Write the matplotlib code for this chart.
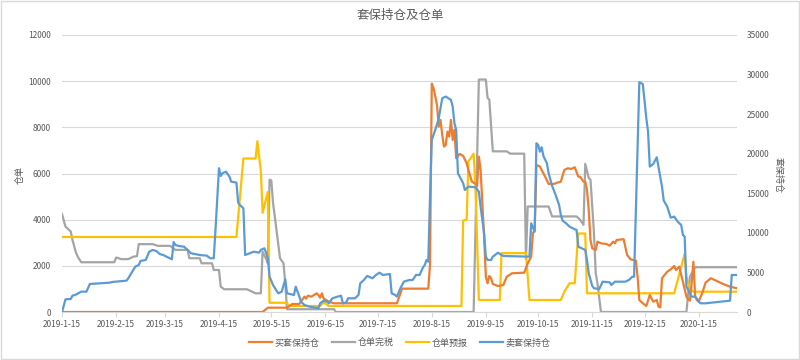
import pandas as pd
import numpy as np
import matplotlib
matplotlib.use('Agg')
import matplotlib.pyplot as plt
import matplotlib.dates as mdates
from matplotlib.ticker import FuncFormatter
from matplotlib.lines import Line2D
from matplotlib.patches import Rectangle

plt.rcParams['font.family'] = ['Noto Sans CJK SC', 'DejaVu Sans']

# ---- data ----
# 仓单预报 (left axis)
yb_dates = ['2019-01-15', '2019-04-25', '2019-04-29', '2019-05-06', '2019-05-07', '2019-05-09',
            '2019-05-10', '2019-05-13', '2019-05-14', '2019-05-24', '2019-05-25', '2019-06-12',
            '2019-06-14', '2019-06-17', '2019-09-01', '2019-09-02', '2019-09-04', '2019-09-05',
            '2019-09-08', '2019-09-09', '2019-09-11', '2019-09-23', '2019-09-24', '2019-10-08',
            '2019-10-10', '2019-10-28', '2019-10-30', '2019-11-02', '2019-11-05', '2019-11-07',
            '2019-11-11', '2019-11-12', '2020-01-01', '2020-01-07', '2020-01-08', '2020-01-10',
            '2020-01-12', '2020-02-06']
yb_vals = [3250, 3250, 6650, 6650, 7400, 6100,
           4300, 5200, 400, 400, 260, 260,
           420, 260, 260, 3960, 4000, 6520,
           6860, 5500, 520, 520, 2550, 2550,
           520, 520, 880, 1245, 1245, 3400,
           3400, 810, 810, 2520, 1530, 1000,
           880, 880]

# 仓单完税 (left axis)
ws_dates = ['2019-01-15', '2019-01-17', '2019-01-20', '2019-01-21', '2019-01-23', '2019-01-24',
            '2019-01-26', '2019-02-14', '2019-02-15', '2019-02-18', '2019-02-22', '2019-02-25',
            '2019-02-27', '2019-02-28', '2019-03-08', '2019-03-11', '2019-03-18', '2019-03-21',
            '2019-03-28', '2019-03-29', '2019-04-04', '2019-04-05', '2019-04-11', '2019-04-12',
            '2019-04-15', '2019-04-16', '2019-04-18', '2019-05-01', '2019-05-06', '2019-05-09',
            '2019-05-10', '2019-05-12', '2019-05-13', '2019-05-14', '2019-05-15', '2019-05-16',
            '2019-05-17', '2019-05-20', '2019-05-22', '2019-05-23', '2019-05-24', '2019-06-20',
            '2019-06-21', '2019-09-08', '2019-09-11', '2019-09-15', '2019-09-16', '2019-09-17',
            '2019-09-19', '2019-09-27', '2019-09-29', '2019-10-07', '2019-10-08', '2019-10-09',
            '2019-10-21', '2019-10-23', '2019-11-06', '2019-11-08', '2019-11-10', '2019-11-11',
            '2019-11-13', '2019-11-14', '2019-11-16', '2019-11-17', '2019-11-18', '2019-11-20',
            '2020-01-08', '2020-01-10', '2020-01-13', '2020-02-06']
ws_vals = [4240, 3700, 3490, 3125, 2575, 2400,
           2155, 2155, 2360, 2290, 2290, 2400,
           2420, 2940, 2940, 2865, 2865, 2690,
           2690, 2330, 2330, 2110, 2110, 1820,
           1820, 1100, 985, 985, 810, 810,
           2620, 2300, 2110, 5730, 5700, 4720,
           4140, 2330, 2110, 1245, 120, 120,
           0, 0, 10070, 10070, 9270, 9200,
           6960, 6960, 6860, 6860, 2300, 4570,
           4570, 4140, 4140, 4000, 3775, 6420,
           5800, 5730, 3415, 1680, 1245, 0,
           0, 1530, 1940, 1940]

# 买套保持仓 (right axis)
buy_dates = ['2019-01-15', '2019-05-10', '2019-05-13', '2019-05-24', '2019-05-27', '2019-05-31',
             '2019-06-03', '2019-06-04', '2019-06-05', '2019-06-07', '2019-06-10', '2019-06-11',
             '2019-06-12', '2019-06-13', '2019-06-14', '2019-06-17', '2019-06-20', '2019-07-26',
             '2019-07-29', '2019-08-13', '2019-08-14', '2019-08-15', '2019-08-16', '2019-08-18',
             '2019-08-19', '2019-08-20', '2019-08-21', '2019-08-22', '2019-08-23', '2019-08-24',
             '2019-08-25', '2019-08-26', '2019-08-27', '2019-08-28', '2019-08-29', '2019-08-31',
             '2019-09-02', '2019-09-04', '2019-09-05', '2019-09-07', '2019-09-09', '2019-09-10',
             '2019-09-11', '2019-09-12', '2019-09-14', '2019-09-15', '2019-09-16', '2019-09-17',
             '2019-09-18', '2019-09-19', '2019-09-22', '2019-09-25', '2019-09-27', '2019-09-30',
             '2019-10-07', '2019-10-09', '2019-10-11', '2019-10-12', '2019-10-13', '2019-10-14',
             '2019-10-16', '2019-10-19', '2019-10-21', '2019-10-24', '2019-10-26', '2019-10-28',
             '2019-10-30', '2019-11-01', '2019-11-03', '2019-11-05', '2019-11-07', '2019-11-08',
             '2019-11-10', '2019-11-11', '2019-11-12', '2019-11-13', '2019-11-14', '2019-11-15',
             '2019-11-17', '2019-11-18', '2019-11-20', '2019-11-23', '2019-11-25', '2019-11-27',
             '2019-11-28', '2019-11-29', '2019-12-03', '2019-12-05', '2019-12-07', '2019-12-10',
             '2019-12-11', '2019-12-12', '2019-12-14', '2019-12-16', '2019-12-18', '2019-12-20',
             '2019-12-22', '2019-12-23', '2019-12-24', '2019-12-25', '2019-12-26', '2019-12-28',
             '2019-12-30', '2020-01-01', '2020-01-02', '2020-01-04', '2020-01-05', '2020-01-06',
             '2020-01-08', '2020-01-09', '2020-01-10', '2020-01-11', '2020-01-12', '2020-01-13',
             '2020-01-14', '2020-01-15', '2020-01-17', '2020-01-19', '2020-01-22', '2020-01-25',
             '2020-01-29', '2020-02-02', '2020-02-06']
buy_vals = [0, 0, 545, 545, 1010, 1000,
            1940, 1700, 2060, 1940, 2360, 2150,
            1800, 2360, 1700, 1300, 1100, 1100,
            2950, 2950, 6000, 28850, 28300, 26170,
            23420, 24270, 22370, 20900, 21110, 22790,
            22160, 24270, 21740, 23000, 19420, 19970,
            19720, 18790, 17950, 16470, 16200, 15950,
            19630, 17950, 9520, 4460, 3625, 4550,
            4260, 3540, 3285, 3400, 4460, 4890,
            4970, 6150, 6990, 9950, 10370, 18580,
            18370, 17100, 16180, 16180, 16350, 16470,
            17950, 18160, 18080, 18290, 17100, 17100,
            16470, 16470, 15420, 12890, 9100, 8050,
            7840, 8890, 8680, 8600, 8380, 8890,
            8680, 9100, 9200, 7200, 6660, 6490,
            4460, 1520, 1100, 760, 2150, 1300,
            1520, 670, 590, 4260, 4550, 5090,
            5390, 5810, 5310, 5730, 4680, 3830,
            1940, 1600, 1430, 3620, 6360, 2000,
            1520, 1300, 2360, 3710, 4260, 3960,
            3540, 3200, 3000]

# 卖套保持仓 (right axis)
sell_dates = ['2019-01-15', '2019-01-17', '2019-01-20', '2019-01-21', '2019-01-23', '2019-01-26',
              '2019-01-29', '2019-01-31', '2019-02-11', '2019-02-13', '2019-02-21', '2019-02-22',
              '2019-02-26', '2019-02-28', '2019-03-01', '2019-03-04', '2019-03-06', '2019-03-08',
              '2019-03-10', '2019-03-12', '2019-03-14', '2019-03-19', '2019-03-20', '2019-03-21',
              '2019-03-23', '2019-03-26', '2019-03-28', '2019-03-30', '2019-04-01', '2019-04-04',
              '2019-04-08', '2019-04-10', '2019-04-12', '2019-04-13', '2019-04-15', '2019-04-16',
              '2019-04-17', '2019-04-19', '2019-04-21', '2019-04-22', '2019-04-25', '2019-04-26',
              '2019-04-27', '2019-04-29', '2019-04-30', '2019-05-05', '2019-05-08', '2019-05-09',
              '2019-05-11', '2019-05-12', '2019-05-13', '2019-05-14', '2019-05-16', '2019-05-18',
              '2019-05-19', '2019-05-21', '2019-05-23', '2019-05-24', '2019-05-26', '2019-05-28',
              '2019-05-29', '2019-05-31', '2019-06-01', '2019-06-03', '2019-06-06', '2019-06-11',
              '2019-06-12', '2019-06-14', '2019-06-16', '2019-06-17', '2019-06-19', '2019-06-22',
              '2019-06-24', '2019-06-25', '2019-06-27', '2019-06-28', '2019-07-02', '2019-07-04',
              '2019-07-05', '2019-07-07', '2019-07-09', '2019-07-12', '2019-07-14', '2019-07-16',
              '2019-07-18', '2019-07-22', '2019-07-23', '2019-07-25', '2019-07-26', '2019-07-28',
              '2019-07-30', '2019-08-02', '2019-08-04', '2019-08-06', '2019-08-08', '2019-08-10',
              '2019-08-11', '2019-08-12', '2019-08-13', '2019-08-14', '2019-08-15', '2019-08-17',
              '2019-08-19', '2019-08-21', '2019-08-23', '2019-08-26', '2019-08-27', '2019-08-28',
              '2019-08-29', '2019-08-30', '2019-08-31', '2019-09-02', '2019-09-03', '2019-09-05',
              '2019-09-09', '2019-09-11', '2019-09-12', '2019-09-14', '2019-09-15', '2019-09-16',
              '2019-09-18', '2019-09-19', '2019-09-22', '2019-09-23', '2019-09-25', '2019-10-10',
              '2019-10-11', '2019-10-13', '2019-10-14', '2019-10-15', '2019-10-16', '2019-10-17',
              '2019-10-18', '2019-10-20', '2019-10-21', '2019-10-23', '2019-10-25', '2019-10-27',
              '2019-10-28', '2019-10-29', '2019-10-31', '2019-11-02', '2019-11-05', '2019-11-06',
              '2019-11-07', '2019-11-09', '2019-11-11', '2019-11-12', '2019-11-13', '2019-11-15',
              '2019-11-16', '2019-11-19', '2019-11-21', '2019-11-25', '2019-11-26', '2019-11-28',
              '2019-12-04', '2019-12-06', '2019-12-08', '2019-12-09', '2019-12-10', '2019-12-12',
              '2019-12-14', '2019-12-16', '2019-12-17', '2019-12-18', '2019-12-20', '2019-12-22',
              '2019-12-24', '2019-12-25', '2019-12-26', '2019-12-28', '2019-12-30', '2020-01-01',
              '2020-01-03', '2020-01-05', '2020-01-06', '2020-01-07', '2020-01-08', '2020-01-11',
              '2020-01-13', '2020-01-16', '2020-01-19', '2020-02-02', '2020-02-03', '2020-02-06']
sell_vals = [0, 1600, 1650, 2060, 2200, 2570,
             2570, 3540, 3700, 3800, 3960, 4260,
             5730, 5940, 6450, 6570, 7620, 7840,
             7710, 7330, 7200, 6660, 8850, 8470,
             8340, 8250, 7840, 7420, 7330, 7200,
             7120, 6790, 6790, 10370, 18160, 17190,
             17530, 17740, 17100, 16470, 16350, 13820,
             13520, 13100, 7200, 7620, 7500, 7840,
             8050, 7500, 6790, 4460, 3410, 2690,
             2360, 2570, 4130, 2360, 2250, 2150,
             3200, 2000, 1300, 885, 670, 470,
             1100, 1430, 1300, 1100, 1730, 1940,
             2060, 1100, 1200, 1730, 1730, 2150,
             3625, 4040, 4550, 4260, 4680, 4970,
             4680, 4800, 2360, 2150, 1940, 3000,
             3830, 4040, 4040, 4680, 4680, 5650,
             5940, 6570, 6360, 14580, 21740, 23000,
             24480, 27010, 27220, 26800, 25950, 23850,
             23000, 17530, 17100, 16270, 15420, 15840,
             15770, 15210, 13310, 9950, 6990, 6570,
             6570, 6990, 7500, 7330, 7080, 6990,
             11210, 10150, 21320, 21110, 20260, 20820,
             19720, 18790, 17530, 15930, 14790, 13520,
             12260, 11540, 11210, 10780, 10450, 10370,
             8250, 8050, 7840, 6570, 4880, 3285,
             3000, 2900, 3830, 3750, 3410, 3830,
             3830, 4040, 4460, 4460, 12680, 29040,
             28800, 24480, 22790, 18370, 18710, 19550,
             17100, 15840, 14070, 13310, 11920, 12050,
             11410, 11000, 9730, 9520, 3200, 1940,
             1940, 1100, 1100, 1430, 4680, 4680]

labels = ['买套保持仓', '仓单完税', '仓单预报', '卖套保持仓']
colors = ['#ED7D31', '#A5A5A5', '#FFC000', '#5B9BD5']
txt = '#595959'

# ---- figure ----
fig = plt.figure(figsize=(8, 3.6), dpi=100)
ax = fig.add_axes([62/800, 1-312/360, 675/800, 277/360])
ax2 = ax.twinx()

lw = 1.6
ax.plot(pd.to_datetime(ws_dates), ws_vals, color=colors[1], lw=lw)
ax.plot(pd.to_datetime(yb_dates), yb_vals, color=colors[2], lw=lw)
ax2.plot(pd.to_datetime(buy_dates), buy_vals, color=colors[0], lw=lw)
ax2.plot(pd.to_datetime(sell_dates), sell_vals, color=colors[3], lw=lw)

ax.set_xlim(pd.Timestamp('2019-01-15'), pd.Timestamp('2020-02-06'))
ax.set_ylim(0, 12000)
ax.set_yticks(np.arange(0, 12001, 2000))
ax2.set_ylim(0, 35000)
ax2.set_yticks(np.arange(0, 35001, 5000))

xt = pd.date_range('2019-01-01', '2020-01-01', freq='MS') + pd.Timedelta(days=14)
ax.set_xticks(xt)
def fmt(x, pos):
    d = mdates.num2date(x)
    return f"{d.year}-{d.month}-{d.day}"
ax.xaxis.set_major_formatter(FuncFormatter(fmt))

ax.grid(axis='y', color='#D9D9D9', lw=0.8)
ax.set_axisbelow(True)
for a in (ax, ax2):
    for s in ('top', 'left', 'right'):
        a.spines[s].set_visible(False)
    a.spines['bottom'].set_color('#D9D9D9')
    a.tick_params(axis='y', length=0, labelsize=6, labelcolor=txt)
ax2.spines['bottom'].set_visible(False)
ax.tick_params(axis='y', pad=8)
ax2.tick_params(axis='y', pad=7)
ax.tick_params(axis='x', length=3.5, color='#D9D9D9', labelsize=6, labelcolor=txt, pad=2)

fig.text(0.5, 1-15/360, '套保持仓及仓单', ha='center', va='center', fontsize=9, color=txt)
fig.text(20/800, 1-175/360, '仓单', rotation=90, ha='center', va='center', fontsize=6.5, color=txt)
fig.text(778/800, 1-175/360, '套保持仓', rotation=270, ha='center', va='center', fontsize=6.5, color=txt)

handles = [Line2D([], [], color=c, lw=lw) for c in colors]
fig.legend(handles, labels, loc='center', bbox_to_anchor=(0.5, 1-343/360), ncol=4, frameon=False,
           fontsize=6.5, handlelength=2.5, columnspacing=1.4, handletextpad=0.3, labelcolor=txt)

fig.patches.append(Rectangle((0.001, 0.002), 0.998, 0.996, transform=fig.transFigure,
                             fill=False, edgecolor='#D9D9D9', lw=1))

fig.savefig('out.png', dpi=100)
